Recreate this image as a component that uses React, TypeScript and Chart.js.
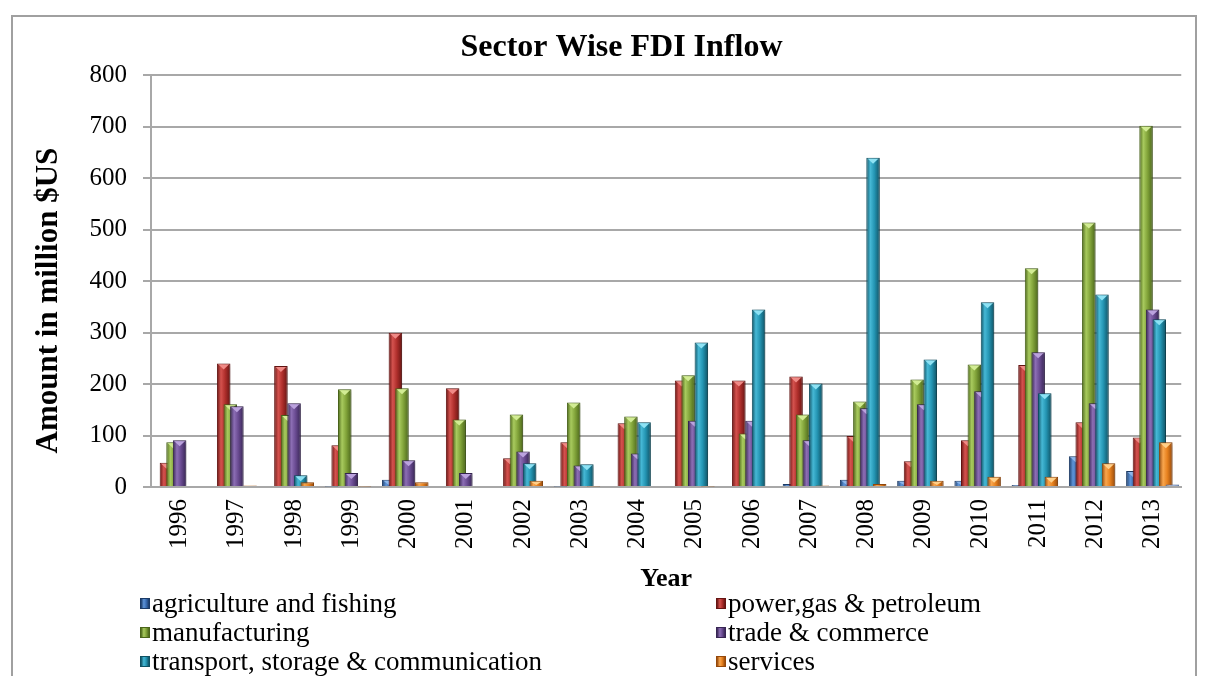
import React, { useEffect, useRef } from "react";
import { Chart, registerables } from "chart.js";

Chart.register(...registerables);

const years = ["1996", "1997", "1998", "1999", "2000", "2001", "2002", "2003", "2004", "2005", "2006", "2007", "2008", "2009", "2010", "2011", "2012", "2013"];
const agriculture = [0, 0, 0, 1, 14, 0, 0, 1, 0, 0, 0, 6, 14, 12, 12, 4, 60, 31];
const power = [47, 240, 235, 81, 300, 192, 56, 87, 124, 207, 207, 215, 99, 50, 91, 237, 126, 96];
const manufacturing = [87, 161, 140, 190, 192, 131, 141, 164, 137, 217, 104, 141, 166, 209, 238, 425, 514, 702];
const trade = [91, 157, 163, 27, 52, 27, 69, 42, 65, 129, 129, 91, 153, 161, 186, 262, 163, 345];
const transport = [0, 2, 23, 0, 2, 0, 46, 44, 126, 281, 345, 201, 640, 248, 359, 182, 374, 326];
const services = [0, 3, 9, 1, 9, 0, 12, 1, 0, 1, 0, 3, 6, 12, 20, 20, 46, 87];
const others = [0, 0, 0, 0, 0, 0, 0, 0, 0, 0, 0, 0, 0, 0, 0, 0, 2, 5];

const seriesNames = [
  "agriculture and fishing",
  "power,gas & petroleum",
  "manufacturing",
  "trade & commerce",
  "transport, storage & communication",
  "services",
  "others",
];
const seriesValues = [agriculture, power, manufacturing, trade, transport, services, others];

const palettes = [
  { base: "#3A6DB3", dark: "#1B3A66", light: "#5E94D8", tri: "#8DB6EA" },
  { base: "#B02F2C", dark: "#661412", light: "#D4524E", tri: "#F08A86" },
  { base: "#82A43A", dark: "#4A651A", light: "#A8CA5E", tri: "#D2EC94" },
  { base: "#6A4B92", dark: "#372553", light: "#8C6EB4", tri: "#BBA2DE" },
  { base: "#2495B3", dark: "#0F5163", light: "#46B8D5", tri: "#8EE2F4" },
  { base: "#E8821F", dark: "#95480A", light: "#F8A64E", tri: "#FFD08A" },
  { base: "#88A5D6", dark: "#546E9C", light: "#AEC6EC", tri: "#D6E4F8" },
];

const FONT = "'Liberation Serif', 'Times New Roman', serif";
const NBSP = "\u00A0";

export default function App() {
  const ref = useRef<HTMLCanvasElement>(null);

  useEffect(() => {
    const canvas = ref.current;
    if (!canvas) return;

    const bevelPlugin = {
      id: "bevelOrder",
      beforeDatasetsDraw(chart: any) {
        const ctx = chart.ctx as CanvasRenderingContext2D;
        const metas = chart.getSortedVisibleDatasetMetas();
        for (const meta of metas) {
          const pal = palettes[meta.index];
          for (const el of meta.data as any[]) {
            const x = el.x;
            const w = el.width;
            if (!isFinite(x) || !isFinite(w)) continue;
            const g = ctx.createLinearGradient(x - w / 2, 0, x + w / 2, 0);
            g.addColorStop(0, pal.dark);
            g.addColorStop(0.3, pal.light);
            g.addColorStop(0.6, pal.base);
            g.addColorStop(1, pal.dark);
            el.options = Object.assign({}, el.options, { backgroundColor: g });
          }
          ctx.save();
          ctx.shadowColor = "rgba(0,0,0,0.28)";
          ctx.shadowBlur = 4;
          ctx.shadowOffsetX = 2;
          ctx.shadowOffsetY = 1;
          if (typeof chart._drawDataset === "function") chart._drawDataset(meta);
          else meta.controller.draw();
          ctx.restore();
          ctx.save();
          for (const el of meta.data as any[]) {
            const top = Math.min(el.y, el.base);
            const h = Math.abs(el.base - el.y);
            if (!isFinite(top) || h < 4) continue;
            const hw = el.width / 2 - 1.5;
            const th = Math.min(5, h - 2);
            ctx.beginPath();
            ctx.moveTo(el.x - hw, top + 1);
            ctx.lineTo(el.x + hw, top + 1);
            ctx.lineTo(el.x, top + 1 + th);
            ctx.closePath();
            ctx.fillStyle = pal.tri;
            ctx.fill();
          }
          ctx.restore();
        }
        return false;
      },
    };

    const chart = new Chart(canvas, {
      type: "bar",
      data: {
        labels: years,
        datasets: seriesValues.map((vals, i) => ({
          label: seriesNames[i],
          data: vals,
          backgroundColor: palettes[i].base,
          borderColor: palettes[i].dark,
          borderWidth: 1,
          categoryPercentage: 0.806,
          barPercentage: 2.05,
        })),
      },
      options: {
        responsive: false,
        animation: false,
        events: [],
        layout: { padding: { left: 0, right: 13, top: 0, bottom: 0 } },
        plugins: {
          legend: { display: false },
          tooltip: { enabled: false },
          title: {
            display: true,
            text: NBSP.repeat(6) + "Sector Wise FDI Inflow",
            color: "#000",
            font: { family: FONT, size: 32, weight: "bold" },
            padding: { top: 12, bottom: 8 },
          },
        },
        scales: {
          x: {
            grid: { display: false, drawTicks: false },
            border: { display: true, color: "#A8A8A8", width: 2 },
            ticks: {
              color: "#000",
              font: { family: FONT, size: 25 },
              minRotation: 90,
              maxRotation: 90,
              autoSkip: false,
              padding: 12,
            },
            title: {
              display: true,
              text: "Year",
              color: "#000",
              font: { family: FONT, size: 26, weight: "bold" },
              padding: { top: 0, bottom: 6 },
            },
            afterFit: (scale: any) => {
              scale.height = 114;
            },
          },
          y: {
            min: 0,
            max: 800,
            grid: { color: "#A8A8A8", lineWidth: 2, drawTicks: true, tickLength: 8 },
            border: { display: true, color: "#A8A8A8", width: 2 },
            ticks: {
              stepSize: 100,
              color: "#000",
              font: { family: FONT, size: 25 },
              padding: 16,
            },
            title: {
              display: true,
              text: "Amount in million $US" + NBSP.repeat(5),
              color: "#000",
              font: { family: FONT, size: 31, weight: "bold" },
              padding: { top: 17, bottom: 0 },
            },
            afterFit: (scale: any) => {
              scale.width = 138;
            },
          },
        },
      },
      plugins: [bevelPlugin],
    });

    return () => chart.destroy();
  }, []);

  return (
    <div
      style={{
        position: "absolute",
        left: 11,
        top: 15,
        width: 1186,
        height: 661,
        boxSizing: "border-box",
        borderStyle: "solid",
        borderColor: "#A0A0A0",
        borderWidth: "2px 2px 0 2px",
        overflow: "hidden",
        background: "#fff",
      }}
    >
      <canvas
        ref={ref}
        width={1182}
        height={584}
        style={{ position: "absolute", left: 0, top: 0, width: 1182, height: 584 }}
      />
      <div
        style={{
          position: "absolute",
          left: 127,
          top: 572,
          display: "grid",
          gridTemplateColumns: "576px 460px",
          gridAutoRows: "29px",
          fontFamily: FONT,
          fontSize: 27,
          lineHeight: "29px",
          color: "#000",
        }}
      >
        {seriesNames.map((name, i) => (
          <div key={name} style={{ display: "flex", alignItems: "center", whiteSpace: "nowrap" }}>
            <span
              style={{
                display: "inline-block",
                width: 10,
                height: 11,
                marginRight: 2,
                flexShrink: 0,
                boxSizing: "border-box",
                border: `1px solid ${palettes[i].dark}`,
                background: `linear-gradient(to right, ${palettes[i].dark}, ${palettes[i].light} 35%, ${palettes[i].base} 65%, ${palettes[i].dark})`,
              }}
            />
            <span>{name}</span>
          </div>
        ))}
      </div>
    </div>
  );
}
